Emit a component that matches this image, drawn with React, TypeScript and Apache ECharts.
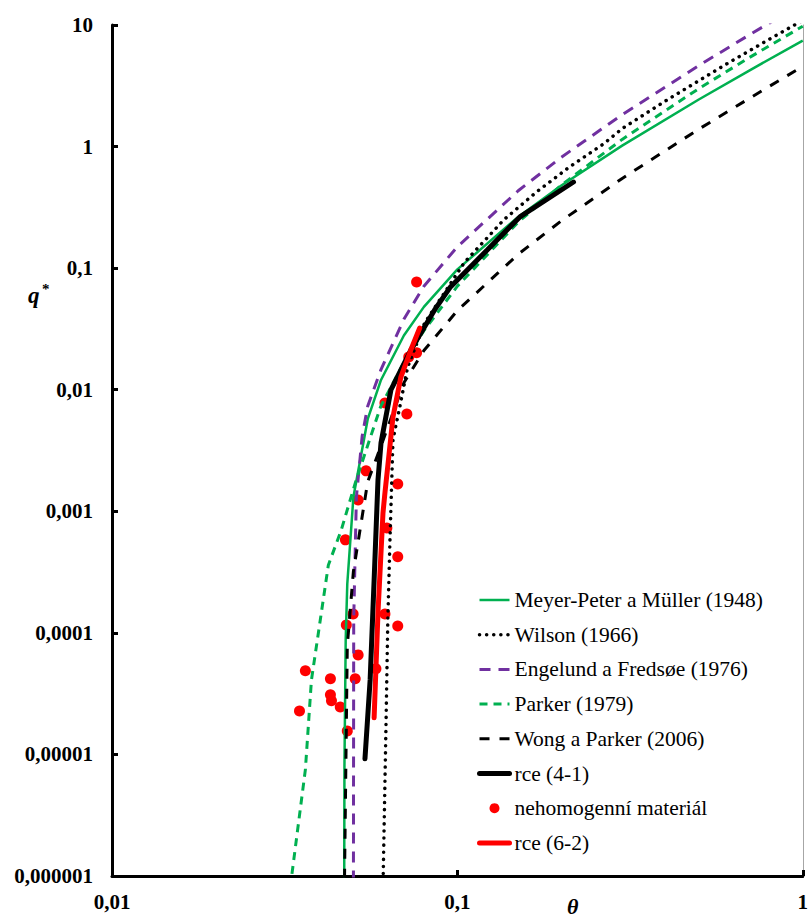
import React, { useEffect, useRef } from 'react';
import * as echarts from 'echarts';

// ---- tick labels ----
const xTickLabels = ['0,01', '0,1', '1'];
const yTickLabels = ['0,000001', '0,00001', '0,0001', '0,001', '0,01', '0,1', '1', '10'];

// ---- series names ----
const nameMPM = 'Meyer-Peter a Müller (1948)';
const nameWilson = 'Wilson (1966)';
const nameEF = 'Engelund a Fredsøe (1976)';
const nameParker = 'Parker (1979)';
const nameWP = 'Wong a Parker (2006)';
const nameRce41 = 'rce (4-1)';
const nameScatter = 'nehomogenní materiál';
const nameRce62 = 'rce (6-2)';

// ---- data (theta, q*) ----
const mpmTheta = [0.04702, 0.0471, 0.0475, 0.048, 0.05, 0.055, 0.06, 0.07, 0.08, 0.1, 0.15, 0.2, 0.3, 0.5, 0.7, 1.0];
const mpmQ = [7.2e-7, 8.0e-6, 8.9e-5, 2.53e-4, 1.31e-3, 5.72e-3, 0.0119, 0.0279, 0.048, 0.0976, 0.264, 0.479, 1.018, 2.44, 4.22, 7.44];

const wilsonTheta = [0.0609, 0.0621, 0.0629, 0.0638, 0.0651, 0.0681, 0.0718, 0.0804, 0.0917, 0.1047, 0.1365, 0.1698, 0.2112, 0.2646, 0.3, 0.4, 0.6, 0.8, 1.0];
const wilsonQ = [8e-7, 1.6e-5, 1.3e-4, 5.8e-4, 3.9e-3, 7.2e-3, 0.0154, 0.0354, 0.0625, 0.111, 0.251, 0.425, 0.68, 1.05, 1.406, 2.37, 4.76, 7.63, 10.93];

const efTheta = [0.0500005, 0.0501, 0.051, 0.053, 0.055, 0.06, 0.07, 0.08, 0.1, 0.15, 0.2, 0.3, 0.5, 0.7, 0.8, 1.0];
const efQ = [6.3e-7, 1.26e-4, 1.3e-3, 4.14e-3, 7.31e-3, 0.0145, 0.038, 0.071, 0.150, 0.433, 0.817, 1.83, 4.64, 8.29, 10.37, 15.0];

const parkerTheta = [0.0328, 0.0363, 0.0378, 0.0401, 0.0423, 0.0461, 0.0509, 0.06, 0.07, 0.08, 0.1, 0.15, 0.2, 0.3, 0.5, 0.7, 1.0];
const parkerQ = [8e-7, 7.5e-6, 4.1e-5, 1.28e-4, 3.6e-4, 7.0e-4, 1.8e-3, 7.3e-3, 0.0167, 0.0306, 0.0711, 0.239, 0.482, 1.146, 3.0, 5.39, 9.77];

const wpTheta = [0.04705, 0.048, 0.05, 0.055, 0.06, 0.07, 0.08, 0.1, 0.15, 0.2, 0.3, 0.5, 0.7, 1.0];
const wpQ = [6.5e-7, 7.8e-5, 3.2e-4, 1.75e-3, 3.4e-3, 0.0114, 0.021, 0.0448, 0.130, 0.245, 0.547, 1.39, 2.49, 4.57];

const rce41Theta = [0.054, 0.0559, 0.0574, 0.0589, 0.0601, 0.0642, 0.0733, 0.0859, 0.0955, 0.122, 0.1517, 0.2169];
const rce41Q = [9.2e-6, 4.1e-5, 2.7e-4, 1.8e-3, 3.65e-3, 9.96e-3, 0.0212, 0.0453, 0.0701, 0.141, 0.264, 0.511];

const scatterTheta = [0.0762, 0.0762, 0.0723, 0.0617, 0.0714, 0.0544, 0.0672, 0.0516, 0.0474, 0.0625, 0.0672, 0.0499, 0.0477, 0.0617, 0.0672, 0.0516, 0.0581, 0.0363, 0.0429, 0.0506, 0.0429, 0.0432, 0.0458, 0.0349, 0.048];
const scatterQ = [0.077, 0.0201, 0.0186, 0.00779, 0.00632, 0.00215, 0.00168, 0.00124, 0.000582, 0.00073, 0.000422, 0.000143, 0.000116, 0.000143, 0.000114, 0.0000659, 0.0000506, 0.0000487, 0.0000419, 0.0000419, 0.0000309, 0.0000276, 0.0000246, 0.0000228, 0.0000156];

const rce62Theta = [0.0574, 0.0589, 0.0609, 0.0617, 0.0651, 0.0686, 0.0733, 0.0778];
const rce62Q = [2.0e-5, 1.46e-4, 9.7e-4, 1.42e-3, 5.97e-3, 0.0127, 0.0212, 0.0322];

const zip = (xs: number[], ys: number[]) => xs.map((x, i) => [x, ys[i]]);

const GREEN = '#00B050';
const PURPLE = '#7030A0';
const RED = '#FF0000';
const SERIF = 'Liberation Serif';

function labelFor(labels: string[], minExp: number) {
  return (v: number) => {
    const idx = Math.round(Math.log10(v)) - minExp;
    return labels[idx] ?? '';
  };
}

export default function App() {
  const ref = useRef<HTMLDivElement>(null);
  useEffect(() => {
    document.body.style.margin = '0';
    const chart = echarts.init(ref.current!, null, { renderer: 'svg' });
    const lineSeries = (name: string, data: number[][], color: string, width: number, type: any, cap: any = 'butt') => ({
      name,
      type: 'line',
      data,
      symbol: 'none',
      smooth: false,
      clip: true,
      lineStyle: { color, width, type, cap },
      itemStyle: { color },
    });
    const hideSym = { opacity: 0 };
    const option: any = {
      animation: false,
      backgroundColor: '#fff',
      grid: { left: 112, right: 3, top: 25, bottom: 42 },
      xAxis: {
        type: 'log',
        logBase: 10,
        min: 0.01,
        max: 1,
        axisLine: { show: true, onZero: false, lineStyle: { color: '#000', width: 3 } },
        axisTick: { show: true, inside: true, length: 6, lineStyle: { color: '#000', width: 3 } },
        minorTick: { show: false },
        splitLine: { show: false },
        axisLabel: {
          formatter: labelFor(xTickLabels, -2),
          fontFamily: SERIF,
          fontWeight: 'bold',
          fontSize: 21,
          color: '#000',
          margin: 15,
        },
      },
      yAxis: [
        {
          type: 'log',
          logBase: 10,
          min: 0.000001,
          max: 10,
          axisLine: { show: true, onZero: false, lineStyle: { color: '#000', width: 3 } },
          axisTick: { show: true, inside: true, length: 6, lineStyle: { color: '#000', width: 3 } },
          minorTick: { show: false },
          splitLine: { show: false },
          axisLabel: {
            formatter: labelFor(yTickLabels, -6),
            fontFamily: SERIF,
            fontWeight: 'bold',
            fontSize: 21,
            color: '#000',
            margin: 19,
          },
        },
        {
          type: 'value',
          position: 'right',
          min: 0,
          max: 1,
          axisLine: { show: true, onZero: false, lineStyle: { color: '#a6a6a6', width: 1 } },
          axisTick: { show: false },
          axisLabel: { show: false },
          splitLine: { show: false },
        },
      ],
      legend: {
        orient: 'vertical',
        left: 472,
        top: 584,
        itemWidth: 30,
        itemHeight: 10,
        itemGap: 12.7,
        textStyle: { fontFamily: SERIF, fontSize: 21.5, color: '#000', lineHeight: 22 },
        data: [
          { name: nameMPM, itemStyle: hideSym, lineStyle: { width: 2.5 } },
          { name: nameWilson, itemStyle: hideSym, lineStyle: { width: 3.5 } },
          { name: nameEF, itemStyle: hideSym, lineStyle: { width: 3 } },
          { name: nameParker, itemStyle: hideSym, lineStyle: { width: 3 } },
          { name: nameWP, itemStyle: hideSym, lineStyle: { width: 3 } },
          { name: nameRce41, itemStyle: hideSym, lineStyle: { width: 5 } },
          { name: nameScatter, icon: 'circle' },
          { name: nameRce62, itemStyle: hideSym, lineStyle: { width: 5 } },
        ],
      },
      graphic: [
        {
          type: 'text',
          x: 567,
          y: 895,
          style: { text: 'θ', font: `italic bold 22px "${SERIF}"`, fill: '#000' },
        },
        {
          type: 'text',
          x: 28,
          y: 284,
          style: { text: 'q', font: `italic bold 23px "${SERIF}"`, fill: '#000' },
        },
        {
          type: 'text',
          x: 42,
          y: 281,
          style: { text: '*', font: `bold 15px "${SERIF}"`, fill: '#000' },
        },
      ],
      series: [
        lineSeries(nameMPM, zip(mpmTheta, mpmQ), GREEN, 2.5, 'solid'),
        lineSeries(nameWilson, zip(wilsonTheta, wilsonQ), '#000', 3.5, [0.1, 7], 'round'),
        lineSeries(nameEF, zip(efTheta, efQ), PURPLE, 3, [11, 8]),
        lineSeries(nameParker, zip(parkerTheta, parkerQ), GREEN, 3, [8, 6]),
        lineSeries(nameWP, zip(wpTheta, wpQ), '#000', 3, [10, 10]),
        lineSeries(nameRce41, zip(rce41Theta, rce41Q), '#000', 5, 'solid', 'round'),
        {
          name: nameScatter,
          type: 'scatter',
          data: zip(scatterTheta, scatterQ),
          symbol: 'circle',
          symbolSize: 11,
          itemStyle: { color: RED, opacity: 1 },
        },
        lineSeries(nameRce62, zip(rce62Theta, rce62Q), RED, 5, 'solid', 'round'),
      ],
    };
    chart.setOption(option);
    return () => chart.dispose();
  }, []);
  return <div ref={ref} style={{ width: 811, height: 918 }} />;
}
